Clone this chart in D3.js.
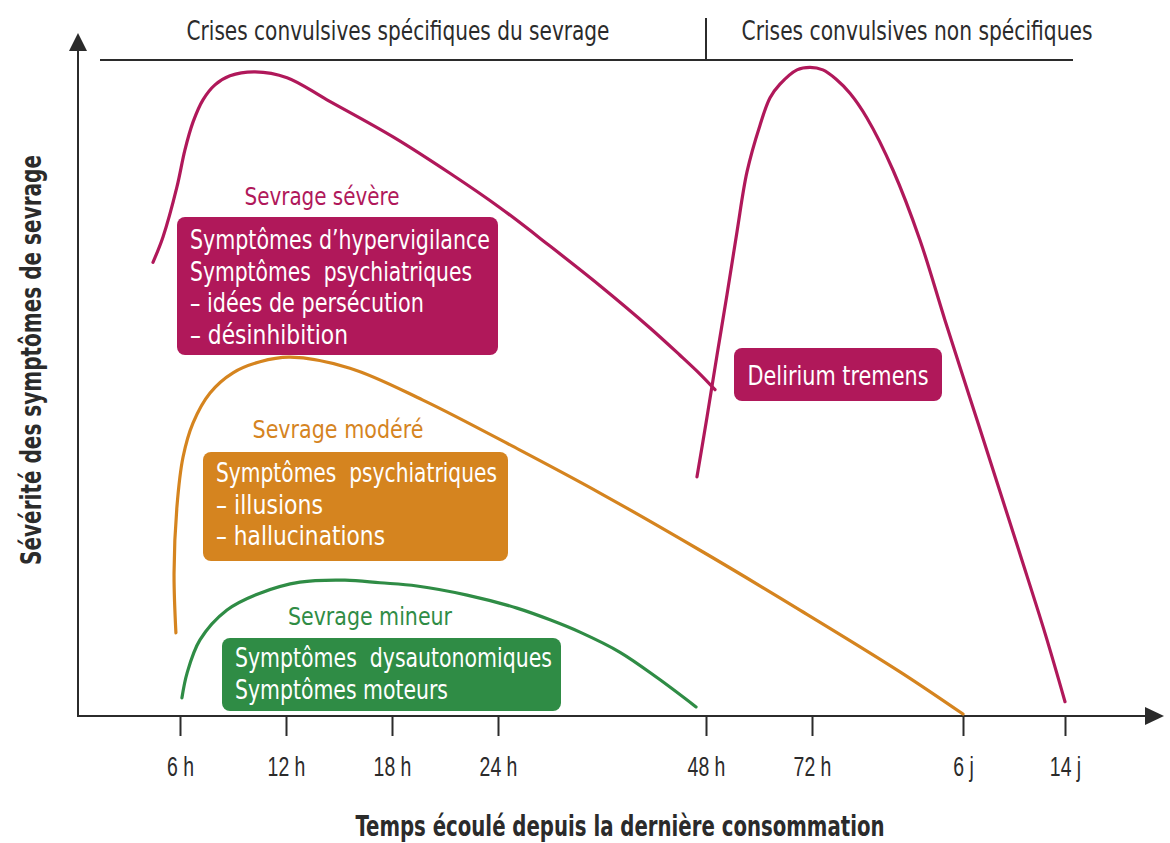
<!DOCTYPE html>
<html>
<head>
<meta charset="utf-8">
<script src="https://cdn.jsdelivr.net/npm/d3@7"></script>
<style>
  body { margin: 0; background: #fff; }
  svg { display: block; font-family: "Liberation Sans Narrow", "DejaVu Sans Condensed", "DejaVu Sans", sans-serif; }
</style>
</head>
<body>
<svg></svg>
<script>
// time in hours, severity 0-100
var tickHours = [6, 12, 18, 24, 48, 72, 144, 336];
var tickLabels = ["6 h", "12 h", "18 h", "24 h", "48 h", "72 h", "6 j", "14 j"];

var severeHours = [4.41, 5.0, 5.82, 6.28, 6.74, 7.30, 7.98, 8.83, 10.25, 12.06, 14.32, 18.06, 21.28, 24.23, 30.0, 35.77, 41.54, 45.0, 47.31, 50.04];
var severeLevel = [69.8, 73.7, 81.4, 87.1, 91.4, 94.8, 97.1, 98.5, 99.1, 98.2, 94.8, 89.1, 83.5, 78.2, 72.3, 66.2, 59.7, 55.5, 52.6, 50.2];

var dtHours = [46.96, 48.23, 50.49, 52.75, 55.02, 57.28, 60.23, 62.5, 64.75, 68.6, 71.55, 77.2, 83.4, 90.1, 98.2, 110.6, 123.5, 135.4, 157.2, 204.4, 251.7, 298.9, 336];
var dtLevel = [36.8, 46.0, 55.5, 64.8, 74.5, 83.7, 90.9, 95.1, 97.2, 99.4, 99.8, 99.4, 98.0, 95.8, 92.0, 84.0, 73.2, 60.9, 48.9, 36.9, 24.8, 12.6, 2.2];

var moderateHours = [5.76, 5.65, 5.82, 6.17, 6.74, 7.70, 9.0, 10.53, 12.23, 15.62, 19.75, 26.54, 35.77, 47.31, 69.28, 113.96, 144];
var moderateLevel = [12.8, 22.0, 32.2, 39.8, 45.1, 49.7, 52.8, 54.5, 55.2, 53.5, 48.6, 40.9, 34.3, 25.5, 16.3, 6.8, 0.3];

var minorHours = [6.11, 6.40, 7.13, 8.66, 10.53, 12.79, 15.34, 17.32, 19.41, 22.25, 26.19, 30.0, 33.46, 38.08, 42.46, 46.85];
var minorLevel = [2.8, 6.6, 11.7, 16.3, 18.9, 20.6, 20.9, 20.5, 20.0, 18.6, 16.6, 14.8, 12.9, 9.8, 5.8, 1.4];

var phaseLabels = ["Crises convulsives spécifiques du sevrage", "Crises convulsives non spécifiques"];

var magenta = "#b0185a", orange = "#d5841f", green = "#2f8c45", ink = "#2b2b2b";

var w = 1170, h = 843;
var svg = d3.select("svg").attr("width", w).attr("height", h);

// squeeze text to a condensed width
function fit(sel, width) {
    sel.attr("textLength", width).attr("lengthAdjust", "spacingAndGlyphs");
    return sel;
}
function squeeze(sel, k) {
    sel.each(function() {
        var n = this.getComputedTextLength();
        d3.select(this).attr("textLength", n * k).attr("lengthAdjust", "spacingAndGlyphs");
    });
}

// piecewise time axis (not linear in the original)
var x = d3.scaleLinear()
    .domain([0, 6, 24, 48, 72, 144, 336])
    .range([78, 180, 498, 706, 812, 963, 1065]);
var y = d3.scaleLinear().domain([0, 100]).range([716, 66]);

var line = d3.line()
    .x(function(d) { return x(d[0]); })
    .y(function(d) { return y(d[1]); })
    .curve(d3.curveCatmullRom.alpha(0.5));

function pts(hs, ls) { return hs.map(function(v, i) { return [v, ls[i]]; }); }

// axes
var axisY = y(0);
svg.append("line").attr("x1", 78).attr("x2", 1150).attr("y1", axisY).attr("y2", axisY)
    .attr("stroke", ink).attr("stroke-width", 2);
svg.append("path").attr("d", "M1164," + axisY + "L1145," + (axisY - 9) + "L1145," + (axisY + 9) + "Z").attr("fill", ink);
svg.append("line").attr("x1", 78).attr("x2", 78).attr("y1", axisY + 1).attr("y2", 45)
    .attr("stroke", ink).attr("stroke-width", 2);
svg.append("path").attr("d", "M78,33L69,51L87,51Z").attr("fill", ink);

var xAxis = d3.axisBottom(x).tickValues(tickHours)
    .tickFormat(function(d, i) { return tickLabels[i]; })
    .tickSize(20).tickPadding(21);
var gx = svg.append("g").attr("transform", "translate(0," + axisY + ")").call(xAxis);
gx.select(".domain").remove();
gx.selectAll(".tick line").attr("stroke", ink).attr("stroke-width", 2);
var tickText = gx.selectAll(".tick text").attr("fill", ink).attr("font-size", 27)
    .attr("font-family", null);
squeeze(tickText, 0.72);

fit(svg.append("text").attr("x", 620).attr("y", 836).attr("text-anchor", "middle")
    .attr("font-size", 29).attr("font-weight", "bold").attr("fill", ink)
    .text("Temps écoulé depuis la dernière consommation"), 529);
fit(svg.append("text").attr("transform", "translate(41,360) rotate(-90)").attr("text-anchor", "middle")
    .attr("font-size", 29).attr("font-weight", "bold").attr("fill", ink)
    .text("Sévérité des symptômes de sevrage"), 410);

// phase header
svg.append("line").attr("x1", 100).attr("x2", 1073).attr("y1", 60).attr("y2", 60)
    .attr("stroke", ink).attr("stroke-width", 2);
svg.append("line").attr("x1", x(48)).attr("x2", x(48)).attr("y1", 18).attr("y2", 60)
    .attr("stroke", ink).attr("stroke-width", 2);
fit(svg.append("text").attr("x", 398).attr("y", 40).attr("text-anchor", "middle")
    .attr("font-size", 26).attr("fill", ink).text(phaseLabels[0]), 423);
fit(svg.append("text").attr("x", 917).attr("y", 40).attr("text-anchor", "middle")
    .attr("font-size", 26).attr("fill", ink).text(phaseLabels[1]), 351);

// curves
var curves = [
    { p: pts(severeHours, severeLevel), c: magenta },
    { p: pts(dtHours, dtLevel), c: magenta },
    { p: pts(moderateHours, moderateLevel), c: orange },
    { p: pts(minorHours, minorLevel), c: green }
];
svg.append("g").selectAll("path").data(curves).enter().append("path")
    .attr("d", function(d) { return line(d.p); })
    .attr("fill", "none")
    .attr("stroke", function(d) { return d.c; })
    .attr("stroke-width", 3.2)
    .attr("stroke-linecap", "round");

// annotation boxes
var boxes = [
    { title: "Sevrage sévère", tx: 322, ty: 205, tw: 155, c: magenta, x0: 177, y0: 217, w: 321, h: 138,
      lines: ["Symptômes d’hypervigilance", "Symptômes  psychiatriques", "– idées de persécution", "– désinhibition"],
      widths: [300, 282, 234, 158], lx: 190, ly: 249 },
    { title: "Sevrage modéré", tx: 338, ty: 438, tw: 171, c: orange, x0: 203, y0: 452, w: 305, h: 109,
      lines: ["Symptômes  psychiatriques", "– illusions", "– hallucinations"],
      widths: [281, 107, 169], lx: 216, ly: 482 },
    { title: "Sevrage mineur", tx: 370, ty: 625, tw: 164, c: green, x0: 222, y0: 638, w: 339, h: 73,
      lines: ["Symptômes  dysautonomiques", "Symptômes moteurs"],
      widths: [317, 213], lx: 235, ly: 667 },
    { title: null, c: magenta, x0: 734, y0: 348, w: 208, h: 53,
      lines: ["Delirium tremens"], widths: [181], lx: 838, ly: 385, mid: true }
];
boxes.forEach(function(b) {
    if (b.title) {
        fit(svg.append("text").attr("x", b.tx).attr("y", b.ty).attr("text-anchor", "middle")
            .attr("font-size", 25).attr("fill", b.c).text(b.title), b.tw);
    }
    svg.append("rect").attr("x", b.x0).attr("y", b.y0).attr("width", b.w).attr("height", b.h)
        .attr("rx", 8).attr("fill", b.c);
    b.lines.forEach(function(t, i) {
        fit(svg.append("text").attr("x", b.lx).attr("y", b.ly + i * 31.5)
            .attr("text-anchor", b.mid ? "middle" : "start")
            .attr("font-size", 26).attr("fill", "#fff").attr("xml:space", "preserve")
            .style("white-space", "pre").text(t), b.widths[i]);
    });
});
</script>
</body>
</html>
